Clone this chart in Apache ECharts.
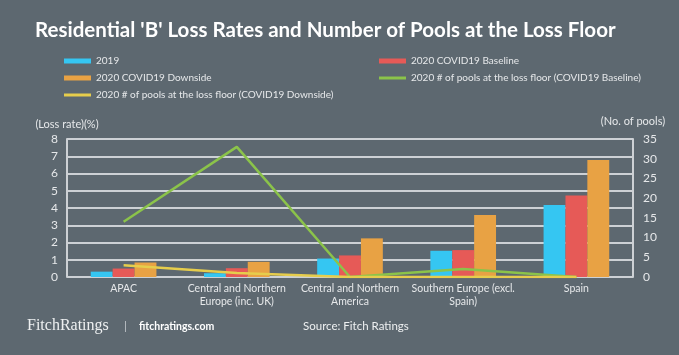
<!DOCTYPE html>
<html>
<head>
<meta charset="utf-8">
<script src="https://cdn.jsdelivr.net/npm/echarts@6/dist/echarts.min.js"></script>
<style>
html,body{margin:0;padding:0;background:#5d6870;}
#c{width:679px;height:355px;}
</style>
</head>
<body>
<div id="c"></div>
<script>
const categories = ['APAC', 'Central and Northern\nEurope (inc. UK)', 'Central and Northern\nAmerica', 'Southern Europe (excl.\nSpain)', 'Spain'];
const loss2019 = [0.31, 0.22, 1.07, 1.52, 4.17];
const lossBaseline = [0.49, 0.51, 1.25, 1.56, 4.72];
const lossDownside = [0.84, 0.88, 2.24, 3.60, 6.78];
const poolsBaseline = [14, 33, 0, 2, 0];
const poolsDownside = [3, 1, 0, 0, 0];
const leftTicks = [0, 8, 1];
const rightTicks = [0, 35, 5];

const C = {
  bg: '#5d6870', text: '#e6e8ea', grid: '#cdd1d5',
  blue: '#35c6f2', red: '#e65a57', orange: '#e8a244', green: '#8bc34a', yellow: '#e6cd4c'
};
const FONT = 'Lato';
const LINE_ICON = 'path://M0 0H27V3H0Z';
const chart = echarts.init(document.getElementById('c'));
const legendText = {color: C.text, fontFamily: FONT, fontSize: 10};
chart.setOption({
  backgroundColor: C.bg,
  animation: false,
  textStyle: {fontFamily: FONT},
  title: {
    text: "Residential 'B' Loss Rates and Number of Pools at the Loss Floor",
    left: 30, top: 15,
    textStyle: {color: '#ffffff', fontFamily: FONT, fontWeight: 'bold', fontSize: 20.5}
  },
  legend: [
    {data: [
       {name: '2019', icon: 'rect'},
       {name: '2020 COVID19 Downside', icon: 'rect'},
       {name: '2020 # of pools at the loss floor (COVID19 Downside)', icon: LINE_ICON}],
     orient: 'vertical', left: 59, top: 51, itemWidth: 27, itemHeight: 5, itemGap: 7,
     textStyle: legendText, selectedMode: false},
    {data: [
       {name: '2020 COVID19 Baseline', icon: 'rect'},
       {name: '2020 # of pools at the loss floor (COVID19 Baseline)', icon: LINE_ICON}],
     orient: 'vertical', left: 374, top: 51, itemWidth: 27, itemHeight: 5, itemGap: 7,
     textStyle: legendText, selectedMode: false}
  ],
  grid: {left: 67, right: 46, top: 139, bottom: 78},
  xAxis: {
    type: 'category', data: categories,
    axisLine: {show: false}, axisTick: {show: false},
    axisLabel: {color: C.text, fontSize: 10.5, fontFamily: FONT, lineHeight: 13, margin: 5, interval: 0}
  },
  yAxis: [
    {type: 'value', min: leftTicks[0], max: leftTicks[1], interval: leftTicks[2],
     name: '(Loss rate)(%)', nameLocation: 'end', nameGap: 9,
     nameTextStyle: {color: C.text, fontSize: 11, fontFamily: FONT, align: 'center'},
     axisLine: {show: true, lineStyle: {color: C.grid, width: 2}},
     axisTick: {show: false},
     axisLabel: {color: C.text, fontSize: 12, fontFamily: FONT, margin: 9},
     splitLine: {show: true, lineStyle: {color: C.grid, width: 2}}},
    {type: 'value', min: rightTicks[0], max: rightTicks[1], interval: rightTicks[2],
     name: '(No. of pools)', nameLocation: 'end', nameGap: 12,
     nameTextStyle: {color: C.text, fontSize: 11, fontFamily: FONT, align: 'center'},
     axisLine: {show: true, lineStyle: {color: C.grid, width: 2}},
     axisTick: {show: false},
     axisLabel: {color: C.text, fontSize: 12, fontFamily: FONT, margin: 10},
     splitLine: {show: false}}
  ],
  series: [
    {name: '2019', type: 'bar', data: loss2019, itemStyle: {color: C.blue}, barGap: '0%', barCategoryGap: '42%'},
    {name: '2020 COVID19 Baseline', type: 'bar', data: lossBaseline, itemStyle: {color: C.red}},
    {name: '2020 COVID19 Downside', type: 'bar', data: lossDownside, itemStyle: {color: C.orange}},
    {name: '2020 # of pools at the loss floor (COVID19 Baseline)', type: 'line', yAxisIndex: 1,
     data: poolsBaseline, symbol: 'none', lineStyle: {color: C.green, width: 2.5}, itemStyle: {color: C.green}, z: 5},
    {name: '2020 # of pools at the loss floor (COVID19 Downside)', type: 'line', yAxisIndex: 1,
     data: poolsDownside, symbol: 'none', lineStyle: {color: C.yellow, width: 2.5}, itemStyle: {color: C.yellow}, z: 5}
  ],
  graphic: [
    {type: 'text', left: 27, top: 318, style: {text: 'FitchRatings', fill: '#eef0f1', font: '16px "Liberation Serif", serif'}},
    {type: 'text', left: 124, top: 321, style: {text: '|', fill: '#c9cdd1', font: '11px Lato'}},
    {type: 'text', left: 139, top: 321, style: {text: 'fitchratings.com', fill: '#ffffff', font: 'bold 10.5px Lato'}},
    {type: 'text', left: 303, top: 320, style: {text: 'Source: Fitch Ratings', fill: '#eef0f1', font: '11.5px Lato'}}
  ]
});
</script>
</body>
</html>
